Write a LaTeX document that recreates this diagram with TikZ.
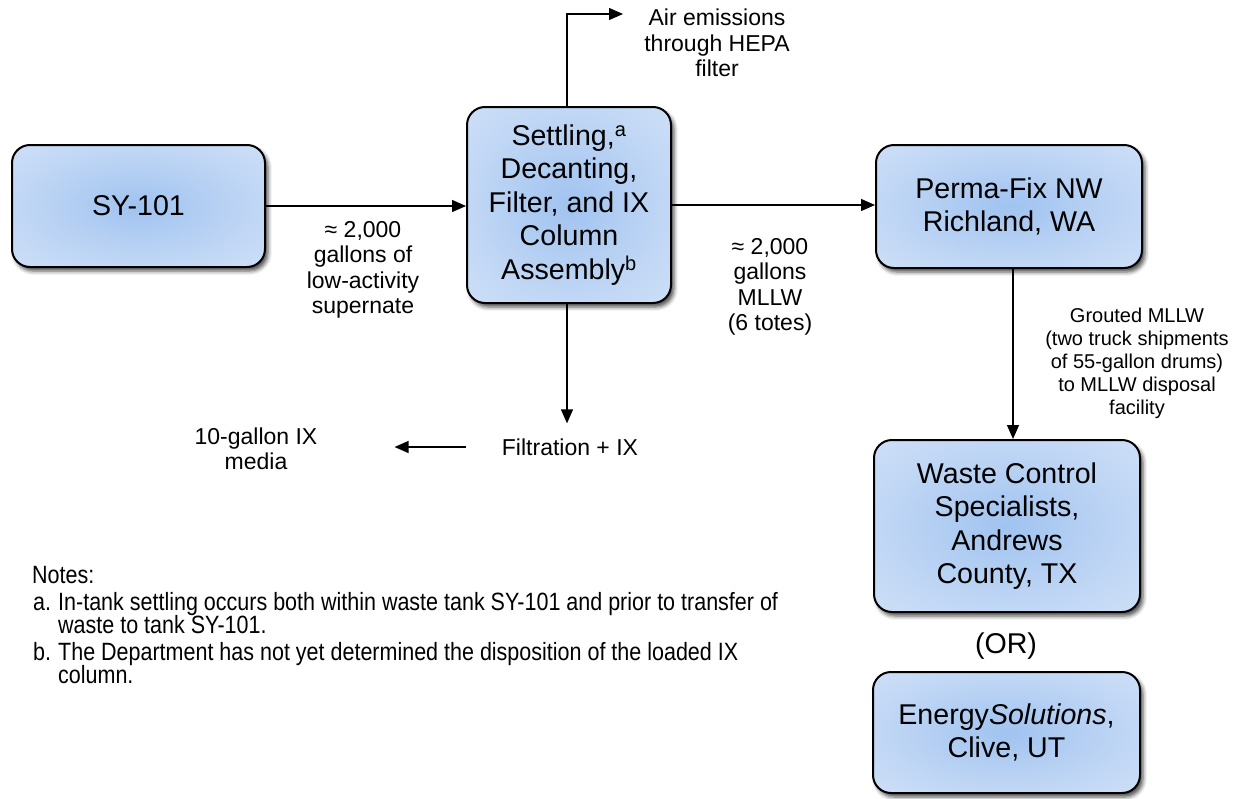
\documentclass[tikz,border=0pt]{standalone}
\usepackage{fontspec}
\setmainfont{Liberation Sans}
\newfontfamily\notefont[FakeStretch=0.86]{Liberation Sans}
\usetikzlibrary{arrows.meta,shadows.blur}
\definecolor{boxin}{HTML}{A0C3F0}
\definecolor{boxmid}{HTML}{BCD4F4}
\definecolor{boxout}{HTML}{D5E4F8}
\definecolor{boxedge}{HTML}{E4EDFB}
\pgfdeclareradialshading{boxshade}{\pgfpoint{0bp}{0bp}}{color(0bp)=(boxin); color(20bp)=(boxmid); color(42bp)=(boxout); color(62bp)=(boxedge); color(75bp)=(boxedge)}
\begin{document}
\begin{tikzpicture}[x=1pt,y=-1pt,
  box/.style={draw=black, line width=2pt, rounded corners=18pt, shading=boxshade,
    blur shadow={shadow xshift=3pt, shadow yshift=-4pt, shadow blur radius=4pt, shadow opacity=70},
    align=center, font=\fontsize{28.6}{33.5}\selectfont, inner sep=0pt},
  lbl/.style={align=center, font=\fontsize{23}{25.5}\selectfont, inner sep=0pt},
  slbl/.style={align=center, font=\fontsize{20}{23}\selectfont, inner sep=0pt},
  note/.style={anchor=base west, inner sep=0pt, font=\notefont\fontsize{25}{23}\selectfont},
  arr/.style={line width=1.3pt, -{Triangle[length=14pt,width=12pt]}}]
\useasboundingbox (0,0) rectangle (1242,798);

% boxes
\node[box, minimum width=253pt, minimum height=122pt] (sy) at (138.5,206) {SY-101};
\node[box, minimum width=204pt, minimum height=196pt] (ctr) at (569,205)
  {Settling,\textsuperscript{a}\\Decanting,\\Filter, and IX\\Column\\Assembly\textsuperscript{b}};
\node[box, minimum width=266pt, minimum height=123pt] (pf) at (1009,206.5) {Perma-Fix NW\\Richland, WA};
\node[box, minimum width=266pt, minimum height=172pt] (wcs) at (1007,526) {Waste Control\\Specialists,\\Andrews\\County, TX};
\node[box, minimum width=267pt, minimum height=121pt] (es) at (1006.5,732.5) {Energy\textit{Solutions},\\Clive, UT};
\node[inner sep=0pt, font=\fontsize{28.6}{33}\selectfont] (or) at (1006,646) {(OR)};

% free-text nodes
\node[lbl] (air) at (717,43) {Air emissions\\through HEPA\\filter};
\node[lbl] (filt) at (570,447) {Filtration + IX};
\node[lbl] (media) at (256,449) {10-gallon IX\\media};
\node[lbl] (l1) at (363,270) {≈ 2,000\\gallons of\\low-activity\\supernate};
\node[lbl] (l2) at (770,287) {≈ 2,000\\gallons\\MLLW\\(6 totes)};
\node[slbl] (l3) at (1137,363) {Grouted MLLW\\(two truck shipments\\of 55-gallon drums)\\to MLLW disposal\\facility};

% connectors
\coordinate (airtip) at (623,14);
\draw[arr] ([xshift=-2pt]ctr.north) |- (airtip);
\draw[arr] (sy.east) -- (sy.east -| ctr.west);
\draw[arr] (ctr.east) -- (ctr.east -| pf.west);
\draw[arr, shorten >=15pt] ([xshift=-2pt]ctr.south) -- ([xshift=-2pt]ctr.south |- filt.north);
\draw[arr, shorten <=36pt, shorten >=77pt] (filt.west) -- (media.east |- filt.west);
\draw[arr] ([xshift=4pt]pf.south) -- ([xshift=4pt]pf.south |- wcs.north);

% notes
\node[note] (n0) at (32,583) {Notes:};
\node[note] (na) at (33,610) {a.};
\node[note] (na1) at (58,610) {In-tank settling occurs both within waste tank SY-101 and prior to transfer of};
\node[note] (na2) at (58,633) {waste to tank SY-101.};
\node[note] (nb) at (33,660) {b.};
\node[note] (nb1) at (58,660) {The Department has not yet determined the disposition of the loaded IX};
\node[note] (nb2) at (58,683) {column.};
\end{tikzpicture}
\end{document}
